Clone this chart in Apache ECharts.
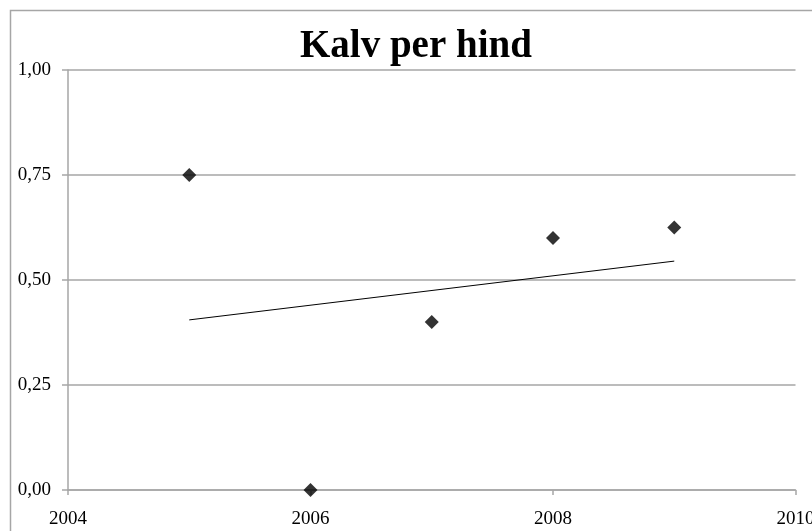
<!DOCTYPE html>
<html>
<head>
<meta charset="utf-8">
<script src="https://cdn.jsdelivr.net/npm/echarts@6/dist/echarts.min.js"></script>
<style>
html,body{margin:0;padding:0;background:#fff;}
#chart{width:812px;height:531px;}
</style>
</head>
<body>
<div id="chart"></div>
<script>
const years = [2005, 2006, 2007, 2008, 2009];
const calfPerHind = [0.75, 0.0, 0.40, 0.60, 0.625];
const trendYears = [2005, 2009];
const trendValues = [0.405, 0.545];
const yTicks = [0, 0.25, 0.5, 0.75, 1.0];
const xTicks = [2004, 2006, 2008, 2010];

const chart = echarts.init(document.getElementById('chart'), null, {renderer: 'canvas'});
const font = 'Liberation Serif, Times New Roman, serif';
chart.setOption({
  animation: false,
  backgroundColor: '#fff',
  graphic: [{
    type: 'rect', silent: true, z: -1,
    shape: {x: 10.5, y: 10.5, width: 1000, height: 1000},
    style: {fill: '#fff', stroke: '#a6a6a6', lineWidth: 1.5}
  }],
  title: {
    text: 'Kalv per hind',
    left: 295, top: 22,
    textStyle: {fontFamily: font, fontSize: 39, fontWeight: 'bold', color: '#000'}
  },
  grid: {left: 68, right: 16.5, top: 70, bottom: 41, containLabel: false, outerBoundsMode: 'none'},
  xAxis: {
    type: 'value', min: xTicks[0], max: xTicks[xTicks.length - 1], interval: 2,
    axisLine: {show: true, lineStyle: {color: '#a6a6a6', width: 1.5}},
    axisTick: {show: true, length: 5, lineStyle: {color: '#a6a6a6', width: 1.5}},
    splitLine: {show: false},
    axisLabel: {margin: 20, fontFamily: font, fontSize: 19, color: '#000', formatter: v => String(v)}
  },
  yAxis: {
    type: 'value', min: yTicks[0], max: yTicks[yTicks.length - 1], interval: 0.25,
    axisLine: {show: true, lineStyle: {color: '#a6a6a6', width: 1.5}},
    axisTick: {show: true, length: 6, lineStyle: {color: '#a6a6a6', width: 1.5}},
    splitLine: {show: true, lineStyle: {color: '#a6a6a6', width: 1.5}},
    axisLabel: {margin: 17, fontFamily: font, fontSize: 19, color: '#000',
      formatter: v => v.toFixed(2).replace('.', ',')}
  },
  series: [
    {
      type: 'line', data: trendYears.map((x, i) => [x, trendValues[i]]),
      symbol: 'none', lineStyle: {color: '#000', width: 1}, z: 2
    },
    {
      type: 'scatter', data: years.map((x, i) => [x, calfPerHind[i]]),
      symbol: 'diamond', symbolSize: 14, itemStyle: {color: '#000'}, z: 3
    }
  ]
});
</script>
</body>
</html>
